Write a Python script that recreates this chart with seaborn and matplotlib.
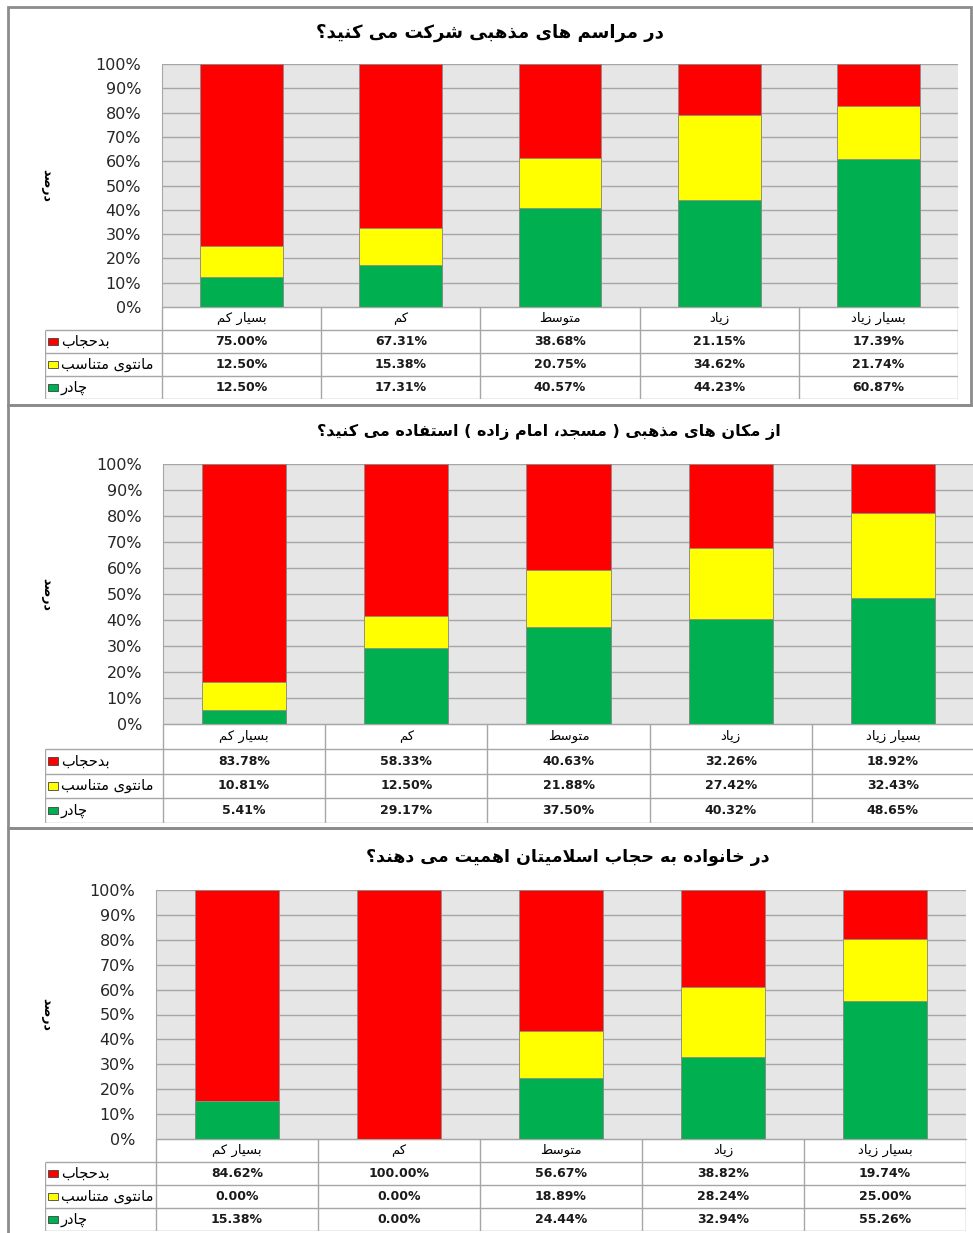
import matplotlib
matplotlib.use("Agg")
import matplotlib.pyplot as plt
from matplotlib.patches import Rectangle
import seaborn as sns
import pandas as pd

# ---- data ----
categories = ["بسیار کم", "کم", "متوسط", "زیاد", "بسیار زیاد"]
series_names = ["بدحجاب", "مانتوی متناسب", "چادر"]
series_colors = ["#FF0000", "#FFFF00", "#00B050"]

title_1 = "در مراسم های مذهبی شرکت می کنید؟"
q1_badhejab = [75.00, 67.31, 38.68, 21.15, 17.39]
q1_manto = [12.50, 15.38, 20.75, 34.62, 21.74]
q1_chador = [12.50, 17.31, 40.57, 44.23, 60.87]

title_2 = "از مکان های مذهبی ( مسجد، امام زاده ) استفاده می کنید؟"
q2_badhejab = [83.78, 58.33, 40.63, 32.26, 18.92]
q2_manto = [10.81, 12.50, 21.88, 27.42, 32.43]
q2_chador = [5.41, 29.17, 37.50, 40.32, 48.65]

title_3 = "در خانواده به حجاب اسلامیتان اهمیت می دهند؟"
q3_badhejab = [84.62, 100.00, 56.67, 38.82, 19.74]
q3_manto = [0.00, 0.00, 18.89, 28.24, 25.00]
q3_chador = [15.38, 0.00, 24.44, 32.94, 55.26]

y_label = "درصد"
y_ticks = [0, 10, 20, 30, 40, 50, 60, 70, 80, 90, 100]

# ---- simple persian shaping (matplotlib has no bidi / joining) ----
DUAL = {'ب': 0xFE8F, 'ت': 0xFE95, 'ث': 0xFE99, 'ج': 0xFE9D, 'ح': 0xFEA1, 'خ': 0xFEA5,
        'س': 0xFEB1, 'ش': 0xFEB5, 'ص': 0xFEB9, 'ض': 0xFEBD, 'ط': 0xFEC1, 'ظ': 0xFEC5,
        'ع': 0xFEC9, 'غ': 0xFECD, 'ف': 0xFED1, 'ق': 0xFED5, 'ل': 0xFEDD, 'م': 0xFEE1,
        'ن': 0xFEE5, 'ه': 0xFEE9, 'ی': 0xFBFC, 'ک': 0xFB8E, 'گ': 0xFB92, 'چ': 0xFB7A,
        'پ': 0xFB56}
RIGHT = {'ا': 0xFE8D, 'آ': 0xFE81, 'د': 0xFEA9, 'ذ': 0xFEAB, 'ر': 0xFEAD, 'ز': 0xFEAF,
         'ژ': 0xFB8A, 'و': 0xFEED}


def fa(s):
    out = []
    i, n = 0, len(s)
    while i < n:
        c = s[i]
        if c not in DUAL and c not in RIGHT:
            out.append(c)
            i += 1
            continue
        link_prev = i > 0 and s[i - 1] in DUAL
        if c == 'ل' and i + 1 < n and s[i + 1] in 'اآ':
            out.append('\uFEFC' if link_prev else '\uFEFB')
            i += 2
            continue
        nxt = s[i + 1] if i + 1 < n else ''
        link_next = c in DUAL and (nxt in DUAL or nxt in RIGHT)
        if c in DUAL:
            base = DUAL[c]
            k = 3 if (link_prev and link_next) else 1 if link_prev else 2 if link_next else 0
        else:
            base = RIGHT[c]
            k = 1 if link_prev else 0
        out.append(chr(base + k))
        i += 1
    return ''.join(out)[::-1].translate(str.maketrans('()', ')('))


# ---- layout (pixels in a 973 x 1233 canvas) ----
W, H = 973, 1233
panels = [
    dict(title=title_1, vals=(q1_badhejab, q1_manto, q1_chador), box=(8, 7, 971, 405),
         title_xy=(490, 33), plot=(162, 64, 958, 307), legend_x=45, table_bottom=399,
         title_size=13),
    dict(title=title_2, vals=(q2_badhejab, q2_manto, q2_chador), box=(8, 405, 975, 828),
         title_xy=(549, 432), plot=(163, 464, 974, 724), legend_x=45, table_bottom=823,
         title_size=11.5),
    dict(title=title_3, vals=(q3_badhejab, q3_manto, q3_chador), box=(8, 828, 975, 1240),
         title_xy=(568, 857), plot=(156, 890, 966, 1139), legend_x=45, table_bottom=1231,
         title_size=12.5),
]


def rect(x0, y0, x1, y1):
    return [x0 / W, 1 - y1 / H, (x1 - x0) / W, (y1 - y0) / H]


grid_col = "#A6A6A6"
fig = plt.figure(figsize=(W / 100, H / 100), dpi=100)
fig.patch.set_facecolor("white")

for p in panels:
    bx0, by0, bx1, by1 = p["box"]
    fig.patches.append(Rectangle((bx0 / W, 1 - by1 / H), (bx1 - bx0) / W, (by1 - by0) / H,
                                 transform=fig.transFigure, fill=False,
                                 edgecolor="#8C8C8C", linewidth=2, zorder=0))
    px0, py0, px1, py1 = p["plot"]
    red, yellow, green = p["vals"]

    # stacked bars: draw cumulative totals from the top down
    df = pd.DataFrame({"cat": categories, "bad": red, "manto": yellow, "chador": green})
    df["top"] = df["bad"] + df["manto"] + df["chador"]
    df["mid"] = df["manto"] + df["chador"]

    ax = fig.add_axes(rect(px0, py0, px1, py1))
    ax.set_facecolor("#E6E6E6")
    for col, color in zip(["top", "mid", "chador"], series_colors):
        sns.barplot(data=df, x="cat", y=col, color=color, width=0.52, ax=ax,
                    edgecolor="#8C8C8C", linewidth=0.6, saturation=1)
    ax.set_xlim(-0.5, 4.5)
    ax.set_ylim(0, 100)
    ax.set_yticks(y_ticks)
    ax.set_yticklabels([f"{t}%" for t in y_ticks], fontsize=11.5, color="#262626")
    ax.tick_params(axis="y", length=0, pad=15)
    ax.set_xticks([])
    ax.set_xlabel("")
    ax.set_ylabel("")
    ax.yaxis.grid(True, color=grid_col, linewidth=1)
    ax.set_axisbelow(True)
    for s in ["top", "right"]:
        ax.spines[s].set_visible(False)
    ax.spines["left"].set_color(grid_col)
    ax.spines["bottom"].set_color(grid_col)

    fig.text(p["title_xy"][0] / W, 1 - p["title_xy"][1] / H, fa(p["title"]),
             ha="center", va="center", fontsize=p["title_size"], fontweight="bold",
             family="DejaVu Sans")
    fig.text(47 / W, 1 - ((py0 + py1) / 2) / H, fa(y_label), rotation=-90,
             ha="center", va="center", fontsize=9, fontweight="bold")

    # data table under the plot
    col_w = (px1 - px0) / 5
    lw = (px0 - p["legend_x"]) / col_w
    tb = p["table_bottom"]
    tax = fig.add_axes(rect(p["legend_x"], py1, px1, tb))
    tax.set_xlim(-0.5 - lw, 4.5)
    tax.set_ylim(4, 0)
    tax.axis("off")
    lc = dict(color=grid_col, linewidth=1, solid_capstyle="butt")
    tax.plot([-0.5, 4.5], [0, 0], **lc)
    for r in [1, 2, 3, 4]:
        tax.plot([-0.5 - lw, 4.5], [r, r], **lc)
    tax.plot([-0.5 - lw, -0.5 - lw], [1, 4], **lc)
    for i in range(6):
        tax.plot([-0.5 + i, -0.5 + i], [0, 4], **lc)
    for i, cat in enumerate(categories):
        tax.text(i, 0.5, fa(cat), ha="center", va="center", fontsize=9.5)
    px_unit = 1 / col_w
    for r, (name, color, vals) in enumerate(zip(series_names, series_colors, p["vals"]), start=1):
        tax.add_patch(Rectangle((-0.5 - lw + 3 * px_unit, r + 0.35), 10 * px_unit, 0.3,
                                facecolor=color, edgecolor="#404040", linewidth=0.6))
        tax.text(-0.5 - lw + 16 * px_unit, r + 0.5, fa(name), ha="left", va="center",
                 fontsize=10.5)
        for i, v in enumerate(vals):
            tax.text(i, r + 0.5, f"{v:.2f}%", ha="center", va="center", fontsize=9,
                     fontweight="bold", color="#1a1a1a")

fig.savefig("out.png", dpi=100)
